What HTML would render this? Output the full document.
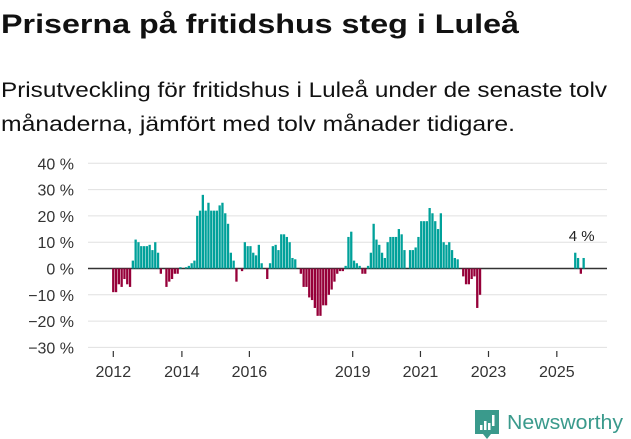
<!DOCTYPE html>
<html><head><meta charset="utf-8"><style>
html,body{margin:0;padding:0;background:#fff;width:631px;height:439px;overflow:hidden}
svg{display:block;font-family:"Liberation Sans",sans-serif}
</style></head><body>
<svg id="chart" width="631" height="439" viewBox="0 0 631 439">
<text x="1" y="33" font-size="27" font-weight="bold" fill="#111" textLength="518" lengthAdjust="spacingAndGlyphs">Priserna på fritidshus steg i Luleå</text>
<text x="1" y="97" font-size="21" fill="#111" textLength="606" lengthAdjust="spacingAndGlyphs">Prisutveckling för fritidshus i Luleå under de senaste tolv</text>
<text x="1" y="131" font-size="21" fill="#111" textLength="514" lengthAdjust="spacingAndGlyphs">månaderna, jämfört med tolv månader tidigare.</text>
<g id="grid"></g>
<g id="bars"></g>
<g id="xaxis"></g>
<g>
<path d="M475 410 h24 v24 h-8 l-4 5 l-4 -5 h-8 z" fill="#3a9a8c"/>
<rect x="480" y="425" width="2.5" height="5" fill="#fff"/>
<rect x="484" y="421" width="2.5" height="9" fill="#fff"/>
<rect x="488" y="423" width="2.5" height="7" fill="#fff"/>
<rect x="492" y="415" width="2.5" height="11" fill="#fff"/>
<text x="507" y="429" font-size="20" fill="#3a9a8c" textLength="116" lengthAdjust="spacingAndGlyphs">Newsworthy</text>
</g>
</svg>
<script>
const values = [-9,-9,-6,-7,-4,-6,-7,3,11,10,8.5,8.5,8.5,9,7,10,6,-2,0,-7,-5,-4,-2,-2,0.5,0,0.5,1,2,3,
20,22,28,22,25,22,22,22,24,25,21,17,6,3,-5,0,-1,10,8.5,8.5,6,5,9,2,0,-4,2,8.5,9,7,
13,13,12,10,4,3.5,0,-2,-7,-7,-11,-12,-15,-18,-18,-14,-14,-10,-8,-5,-2,-1,-1,1,12,14,3,2,1,-2,
-2,1,6,17,11,9,6,4,10,12,12,12,15,13,7,0,7,7,8,12,18,18,18,23,21,18,15,21,10,9,
10,7,4,3.5,0,-3,-6,-6,-4,-3,-15,-10,null,null,null,null,null,null,null,null,null,null,null,null,null,null,null,null,null,null,
null,null,null,null,null,null,null,null,null,null,null,null,null,null,null,6,4,-2,4];
const yTicks = [40,30,20,10,0,-10,-20,-30];
const xTickLabels = ["2012","2014","2016","2019","2021","2023","2025"];
const xTickMonths = [0,24.5,48.6,85.5,109.7,134,158.4];
const lastLabel = "4 %";

const NS="http://www.w3.org/2000/svg";
const x0=113.3, dx=2.8, y0=268.5, ky=2.63;
const xs=i=>x0+dx*i;
const ys=v=>y0-v*ky;
function mk(tag,attrs,parent){const e=document.createElementNS(NS,tag);for(const k in attrs)e.setAttribute(k,attrs[k]);parent.appendChild(e);return e;}
const grid=document.getElementById('grid'),bars=document.getElementById('bars'),xa=document.getElementById('xaxis');
yTicks.forEach(t=>{
  const l=mk('line',{x1:88,x2:607,y1:ys(t),y2:ys(t),stroke:'#e0e0e0','stroke-width':1},grid);
  
  
  const tx=mk('text',{x:74,y:ys(t)+6,'text-anchor':'end','font-size':16,fill:'#333'},grid);
  tx.textContent=(t<0?'\u2212'+(-t):t)+' %';
  
  
});
values.forEach((v,i)=>{
  if(v===null||v===0)return;
  const y=Math.min(ys(v),y0),h=Math.abs(ys(v)-y0);
  const r=mk('rect',{x:xs(i)-1.2,y:y,width:2.3,height:h,fill:v>0?'#00a19a':'#960039'},bars);
  
  
});
const zl=mk('line',{x1:88,x2:607,y1:y0,y2:y0,stroke:'#333','stroke-width':1.5},grid);


xTickLabels.forEach((lab,k)=>{
  const x=xs(xTickMonths[k]);
  const t=mk('line',{x1:x,x2:x,y1:351,y2:357,stroke:'#333','stroke-width':1.2},xa);
  
  
  const tx=mk('text',{x:x,y:377,'text-anchor':'middle','font-size':16,fill:'#333'},xa);
  tx.textContent=lab;
  
  
});
let li=values.length-1;while(values[li]===null)li--;
const vl=mk('text',{x:xs(li)-2,y:241,'text-anchor':'middle','font-size':15,fill:'#222'},bars);
vl.textContent=lastLabel;


</script>
</body></html>
